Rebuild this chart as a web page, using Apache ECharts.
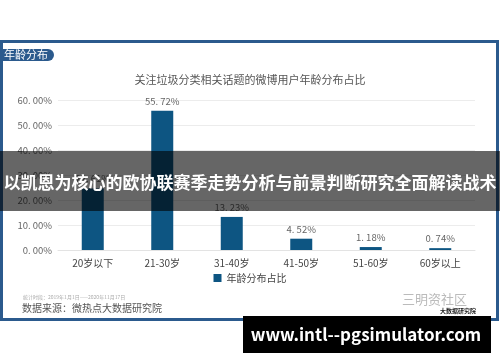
<!DOCTYPE html>
<html>
<head>
<meta charset="utf-8">
<script src="https://cdn.jsdelivr.net/npm/echarts@6/dist/echarts.min.js"></script>
<style>
html, body { margin: 0; padding: 0; background: #fff; }
#chart { width: 500px; height: 362px; }
</style>
</head>
<body>
<div id="chart"></div>
<script>
// 年龄分段
const ageGroups = ['20岁以下', '21-30岁', '31-40岁', '41-50岁', '51-60岁', '60岁以上']
// 占比 (%)
const shareValues = [24.61, 55.72, 13.23, 4.52, 1.18, 0.74]
// y轴刻度
const yTicks = [0, 10, 20, 30, 40, 50, 60]

const FONT = '"Noto Sans CJK SC", "Noto Sans", sans-serif'
const BLUE = '#2b5a8d'

//百分比格式, 原图点号后带空格
function fmtPct(v) {
    return v.toFixed(2).replace('.', '. ') + '%'
}

const myChart = echarts.init(document.getElementById('chart'))

const option = {
    animation: false,
    textStyle: { fontFamily: FONT },
    title: {
        text: '关注垃圾分类相关话题的微博用户年龄分布占比',
        left: 'center',
        top: 69,
        textStyle: { fontSize: 11, fontWeight: 'normal', color: '#555', fontFamily: FONT }
    },
    grid: { left: 58, right: 25, top: 100, bottom: 112 },
    legend: {
        bottom: 74,
        left: 'center',
        icon: 'rect',
        itemWidth: 8,
        itemHeight: 8,
        textStyle: { fontSize: 10, color: '#444', fontFamily: FONT },
        data: ['年龄分布占比']
    },
    xAxis: {
        type: 'category',
        data: ageGroups,
        axisLine: { lineStyle: { color: '#e3e3e3' } },
        axisTick: { show: false },
        axisLabel: { color: '#444', fontSize: 10, margin: 8, fontFamily: FONT }
    },
    yAxis: {
        type: 'value',
        min: yTicks[0],
        max: yTicks[yTicks.length - 1],
        interval: 10,
        axisLine: { show: false },
        axisTick: { show: false },
        splitLine: { lineStyle: { color: '#ececec' } },
        axisLabel: { color: '#666', fontSize: 9.5, margin: 6, formatter: v => fmtPct(v), fontFamily: FONT }
    },
    series: [{
        name: '年龄分布占比',
        type: 'bar',
        barWidth: 22,
        data: shareValues,
        itemStyle: { color: '#0d5582' },
        label: {
            show: true,
            position: 'top',
            distance: 5,
            color: '#666',
            fontSize: 9.5,
            fontFamily: FONT,
            formatter: p => fmtPct(p.value)
        }
    }],
    graphic: [
        //外框
        { type: 'rect', shape: { x: 1.5, y: 41.5, width: 496, height: 278 }, style: { fill: 'none', stroke: BLUE, lineWidth: 3 }, z: 10 },
        //标签
        { type: 'rect', shape: { x: 0, y: 49, width: 54, height: 12, r: [0, 6, 6, 0] }, style: { fill: BLUE }, z: 10 },
        { type: 'text', x: 4, y: 55, style: { text: '年龄分布', fill: '#fff', fontSize: 11, fontFamily: FONT, textVerticalAlign: 'middle' }, z: 11 },
        //底部来源
        { type: 'text', x: 23, y: 297, style: { text: '统计时段：2019年1月1日——2020年11月17日', fill: '#aaa', fontSize: 5, fontFamily: FONT, textVerticalAlign: 'middle' }, z: 10 },
        { type: 'text', x: 22, y: 308, style: { text: '数据来源：微热点大数据研究院', fill: '#555', fontSize: 10, fontFamily: FONT, textVerticalAlign: 'middle' }, z: 10 },
        //水印
        { type: 'text', x: 402, y: 299, style: { text: '三明资社区', fill: '#bbb', fontSize: 13, fontFamily: FONT, textVerticalAlign: 'middle' }, z: 10 },
        { type: 'text', x: 440, y: 311, style: { text: '大数据研究院', fill: '#222', fontSize: 6, fontWeight: 'bold', fontFamily: FONT, textVerticalAlign: 'middle' }, z: 10 },
        //标题横幅
        { type: 'rect', shape: { x: 0, y: 151, width: 500, height: 60 }, style: { fill: 'rgba(0,0,0,0.6)' }, z: 20 },
        { type: 'text', x: 250, y: 183, style: { text: '以凯恩为核心的欧协联赛季走势分析与前景判断研究全面解读战术', fill: '#fff', fontSize: 17, fontWeight: 'bold', fontFamily: FONT, textAlign: 'center', textVerticalAlign: 'middle' }, z: 21 },
        //网址
        { type: 'rect', shape: { x: 243, y: 316, width: 248, height: 37 }, style: { fill: '#000' }, z: 20 },
        { type: 'text', x: 366, y: 335, style: { text: 'www.intl--pgsimulator.com', fill: '#fff', fontSize: 17, fontWeight: 'bold', fontFamily: FONT, textAlign: 'center', textVerticalAlign: 'middle' }, z: 21 }
    ]
}
myChart.setOption(option)
</script>
</body>
</html>
